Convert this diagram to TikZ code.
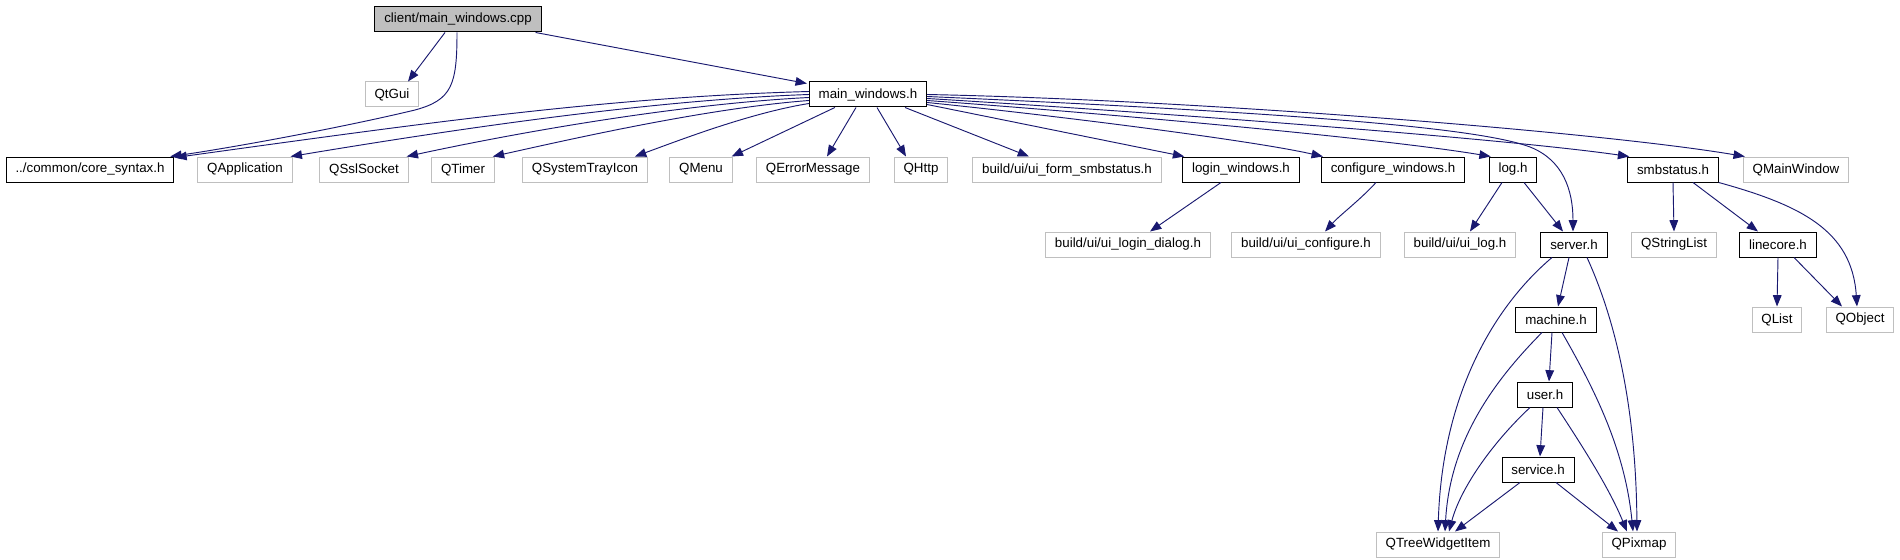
\documentclass[tikz,border=0pt]{standalone}
\usepackage{fontspec}
\setmainfont{Liberation Sans}
\usetikzlibrary{arrows.meta,calc}
\definecolor{grey75}{HTML}{BFBFBF}
\definecolor{mblue}{HTML}{191970}
\tikzset{
  doc/.style={draw=black, fill=white, rectangle, minimum height=18.75pt, inner xsep=7pt, inner ysep=0pt, font=\fontsize{10}{12}\selectfont, line width=0.75pt},
  ext/.style={doc, draw=grey75},
  cur/.style={doc, fill=grey75},
  dep/.style={draw=mblue, line width=0.7pt, -{Triangle[length=8.5pt,width=6.5pt]}, mblue},
}
\begin{document}
\begin{tikzpicture}[x=0.75pt,y=-0.75pt]
\fill[white] (0,0) rectangle (1900,560);
\useasboundingbox (0,0) rectangle (1900,560);
% rank 0
\node[cur] (cpp) at (458,19.5) {client/main\_windows.cpp};
% rank 1
\node[ext] (qtgui) at (392,94.5) {QtGui};
\node[doc] (mwh) at (868,94.5) {main\_windows.h};
% rank 2
\node[doc] (core) at (90,169.5) {../common/core\_syntax.h};
\node[ext] (qapp) at (245,169.5) {QApplication};
\node[ext] (qssl) at (364,169.5) {QSslSocket};
\node[ext] (qtimer) at (463,169.5) {QTimer};
\node[ext] (qtray) at (585,169.5) {QSystemTrayIcon};
\node[ext] (qmenu) at (701,169.5) {QMenu};
\node[ext] (qerr) at (813,169.5) {QErrorMessage};
\node[ext] (qhttp) at (921,169.5) {QHttp};
\node[ext] (uiform) at (1067,169.5) {build/ui/ui\_form\_smbstatus.h};
\node[doc] (login) at (1241,169.5) {login\_windows.h};
\node[doc] (conf) at (1393,169.5) {configure\_windows.h};
\node[doc] (logh) at (1513,169.5) {log.h};
\node[doc] (smb) at (1673,169.5) {smbstatus.h};
\node[ext] (qmain) at (1796,169.5) {QMainWindow};
% rank 3
\node[ext] (uilogin) at (1128,244.5) {build/ui/ui\_login\_dialog.h};
\node[ext] (uiconf) at (1306,244.5) {build/ui/ui\_configure.h};
\node[ext] (uilog) at (1460,244.5) {build/ui/ui\_log.h};
\node[doc] (server) at (1574,244.5) {server.h};
\node[ext] (qsl) at (1674,244.5) {QStringList};
\node[doc] (linecore) at (1778,244.5) {linecore.h};
% rank 4
\node[doc] (machine) at (1556,319.5) {machine.h};
\node[ext] (qlist) at (1777,319.5) {QList};
\node[ext] (qobject) at (1860,319.5) {QObject};
% rank 5
\node[doc] (user) at (1545,394.5) {user.h};
% rank 6
\node[doc] (service) at (1538,469.5) {service.h};
% rank 7
\node[ext] (qtree) at (1438,544.5) {QTreeWidgetItem};
\node[ext] (qpix) at (1639,544.5) {QPixmap};

% edges from cpp
\draw[dep] ($(cpp.south)+(-13,0)$) -- ($(qtgui.north)+(16,0)$);
\draw[dep] ($(cpp.south)+(-1,0)$) .. controls (457,85) and (452,100) .. (415,110) .. controls (340,128) and (230,148) .. ($(core.north east)+(-4,0)$);
\draw[dep] ($(cpp.south east)+(-6,0)$) -- ($(mwh.north west)+(-2,2)$);

% edges from main_windows.h to the left
\draw[dep] ($(mwh.west)+(0,-3)$) .. controls (609,97) and (425,123) .. ($(core.north east)+(1,1)$);
\draw[dep] (mwh.west) .. controls (650,100) and (450,130) .. ($(qapp.north east)+(-2,0)$);
\draw[dep] ($(mwh.west)+(0,3)$) .. controls (680,104) and (520,132) .. ($(qssl.north east)+(-2,0)$);
\draw[dep] ($(mwh.west)+(0,6)$) .. controls (710,108) and (580,137) .. ($(qtimer.north east)+(-2,0)$);
\draw[dep] ($(mwh.west)+(0,9)$) .. controls (750,113) and (680,140) .. ($(qtray.north east)+(-13,0)$);
\draw[dep] ($(mwh.south west)+(26,0)$) -- ($(qmenu.north east)+(-1,0)$);
\draw[dep] ($(mwh.south)+(-12,0)$) -- ($(qerr.north)+(14,0)$);
\draw[dep] ($(mwh.south)+(9,0)$) -- ($(qhttp.north)+(-15,0)$);
% edges from main_windows.h to the right
\draw[dep] ($(mwh.south)+(37,0)$) -- ($(uiform.north)+(-38,0)$);
\draw[dep] ($(mwh.east)+(0,10)$) -- ($(login.north west)+(2,0)$);
\draw[dep] ($(mwh.east)+(0,8)$) .. controls (1050,115) and (1250,140) .. ($(conf.north west)+(2,0)$);
\draw[dep] ($(mwh.east)+(0,6)$) .. controls (1100,113) and (1380,138) .. ($(logh.north west)+(2,0)$);
\draw[dep] ($(mwh.east)+(0,2)$) .. controls (1300,113) and (1480,128) .. (1530,147) .. controls (1563,160) and (1573,190) .. ($(server.north)+(-1,0)$);
\draw[dep] ($(mwh.east)+(0,4)$) .. controls (1150,112) and (1500,138) .. ($(smb.north west)+(2,0)$);
\draw[dep] (mwh.east) .. controls (1200,100) and (1600,132) .. ($(qmain.north west)+(2,0)$);

% second level
\draw[dep] ($(login.south)+(-20,0)$) -- ($(uilogin.north)+(22,0)$);
\draw[dep] ($(conf.south)+(-17,0)$) .. controls (1360,200) and (1340,215) .. ($(uiconf.north)+(19,0)$);
\draw[dep] ($(logh.south)+(-11,0)$) -- ($(uilog.north)+(10,0)$);
\draw[dep] ($(logh.south)+(11,0)$) -- ($(server.north)+(-11,0)$);
\draw[dep] (smb.south) -- (qsl.north);
\draw[dep] ($(smb.south)+(20,0)$) -- ($(linecore.north)+(-20,0)$);
\draw[dep] (smb.south east) .. controls (1800,205) and (1852,230) .. ($(qobject.north)+(-3,0)$);
\draw[dep] (linecore.south) -- (qlist.north);
\draw[dep] ($(linecore.south)+(16,0)$) -- ($(qobject.north)+(-18,0)$);

% server.h and below
\draw[dep] ($(server.south)+(-22,0)$) .. controls (1490,310) and (1442,400) .. (qtree.north);
\draw[dep] ($(server.south)+(-5,0)$) -- ($(machine.north)+(2,0)$);
\draw[dep] ($(server.south)+(13,0)$) .. controls (1620,330) and (1636,420) .. ($(qpix.north)+(-2,0)$);
\draw[dep] ($(machine.south)+(-4,0)$) -- ($(user.north)+(4,0)$);
\draw[dep] ($(machine.south)+(-14,0)$) .. controls (1495,380) and (1450,440) .. ($(qtree.north)+(7,0)$);
\draw[dep] ($(machine.south)+(6,0)$) .. controls (1595,390) and (1625,450) .. ($(qpix.north)+(-6,0)$);
\draw[dep] ($(user.south)+(-2,0)$) -- ($(service.north)+(2,0)$);
\draw[dep] ($(user.south)+(-15,0)$) .. controls (1490,445) and (1460,490) .. ($(qtree.north)+(11,0)$);
\draw[dep] ($(user.south)+(12,0)$) .. controls (1585,450) and (1610,490) .. ($(qpix.north)+(-12,0)$);
\draw[dep] ($(service.south)+(-18,0)$) -- ($(qtree.north)+(17,0)$);
\draw[dep] ($(service.south)+(18,0)$) -- ($(qpix.north)+(-21,0)$);
\end{tikzpicture}
\end{document}
